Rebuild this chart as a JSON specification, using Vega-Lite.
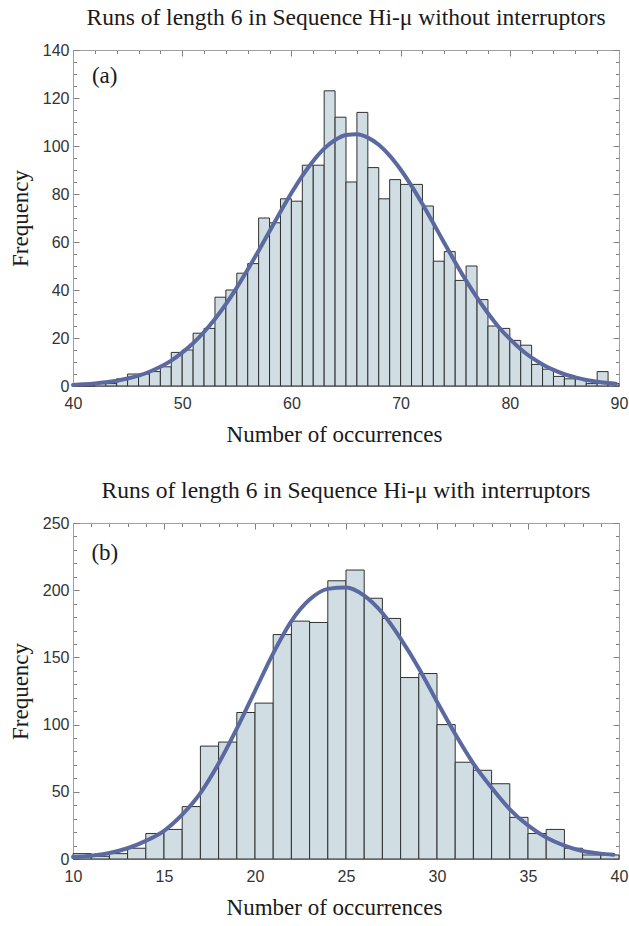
{
  "$schema": "https://vega.github.io/schema/vega-lite/v6.json",
  "padding": {"left": 8, "right": 0, "top": 5, "bottom": 0},
  "spacing": 31,
  "datasets": {
    "a_bars": [
      {"start": 40, "end": 41, "count": 0}, {"start": 41, "end": 42, "count": 0}, {"start": 42, "end": 43, "count": 1},
      {"start": 43, "end": 44, "count": 1}, {"start": 44, "end": 45, "count": 3}, {"start": 45, "end": 46, "count": 5},
      {"start": 46, "end": 47, "count": 5}, {"start": 47, "end": 48, "count": 6}, {"start": 48, "end": 49, "count": 8},
      {"start": 49, "end": 50, "count": 14}, {"start": 50, "end": 51, "count": 15}, {"start": 51, "end": 52, "count": 22},
      {"start": 52, "end": 53, "count": 24}, {"start": 53, "end": 54, "count": 37}, {"start": 54, "end": 55, "count": 40},
      {"start": 55, "end": 56, "count": 47}, {"start": 56, "end": 57, "count": 51}, {"start": 57, "end": 58, "count": 70},
      {"start": 58, "end": 59, "count": 68}, {"start": 59, "end": 60, "count": 78}, {"start": 60, "end": 61, "count": 77},
      {"start": 61, "end": 62, "count": 92}, {"start": 62, "end": 63, "count": 92}, {"start": 63, "end": 64, "count": 123},
      {"start": 64, "end": 65, "count": 112}, {"start": 65, "end": 66, "count": 85}, {"start": 66, "end": 67, "count": 114},
      {"start": 67, "end": 68, "count": 91}, {"start": 68, "end": 69, "count": 78}, {"start": 69, "end": 70, "count": 86},
      {"start": 70, "end": 71, "count": 84}, {"start": 71, "end": 72, "count": 84}, {"start": 72, "end": 73, "count": 75},
      {"start": 73, "end": 74, "count": 52}, {"start": 74, "end": 75, "count": 56}, {"start": 75, "end": 76, "count": 44},
      {"start": 76, "end": 77, "count": 50}, {"start": 77, "end": 78, "count": 36}, {"start": 78, "end": 79, "count": 25},
      {"start": 79, "end": 80, "count": 24}, {"start": 80, "end": 81, "count": 19}, {"start": 81, "end": 82, "count": 17},
      {"start": 82, "end": 83, "count": 9}, {"start": 83, "end": 84, "count": 7}, {"start": 84, "end": 85, "count": 4},
      {"start": 85, "end": 86, "count": 3}, {"start": 86, "end": 87, "count": 3}, {"start": 87, "end": 88, "count": 1},
      {"start": 88, "end": 89, "count": 6}, {"start": 89, "end": 90, "count": 1}
    ],
    "a_curve": [
      {"x": 40, "f": 0.46}, {"x": 41, "f": 0.7}, {"x": 42, "f": 1.04}, {"x": 43, "f": 1.52}, {"x": 44, "f": 2.19},
      {"x": 45, "f": 3.1}, {"x": 46, "f": 4.33}, {"x": 47, "f": 5.93}, {"x": 48, "f": 8.0}, {"x": 49, "f": 10.6},
      {"x": 50, "f": 13.9}, {"x": 51, "f": 17.8}, {"x": 52, "f": 22.5}, {"x": 53, "f": 27.9}, {"x": 54, "f": 34.1},
      {"x": 55, "f": 41.0}, {"x": 56, "f": 48.5}, {"x": 57, "f": 56.4}, {"x": 58, "f": 64.5}, {"x": 59, "f": 72.6},
      {"x": 60, "f": 80.4}, {"x": 61, "f": 87.6}, {"x": 62, "f": 93.8}, {"x": 63, "f": 98.9}, {"x": 64, "f": 102.5},
      {"x": 65, "f": 104.6}, {"x": 66, "f": 104.9}, {"x": 67, "f": 103.5}, {"x": 68, "f": 100.5}, {"x": 69, "f": 96.0},
      {"x": 70, "f": 90.2}, {"x": 71, "f": 83.4}, {"x": 72, "f": 75.8}, {"x": 73, "f": 67.8}, {"x": 74, "f": 59.6},
      {"x": 75, "f": 51.6}, {"x": 76, "f": 43.9}, {"x": 77, "f": 36.8}, {"x": 78, "f": 30.3}, {"x": 79, "f": 24.5},
      {"x": 80, "f": 19.6}, {"x": 81, "f": 15.3}, {"x": 82, "f": 11.8}, {"x": 83, "f": 9.0}, {"x": 84, "f": 6.7},
      {"x": 85, "f": 4.9}, {"x": 86, "f": 3.6}, {"x": 87, "f": 2.5}, {"x": 88, "f": 1.76}, {"x": 89, "f": 1.21},
      {"x": 89.7, "f": 0.95}
    ],
    "b_bars": [
      {"start": 10, "end": 11, "count": 4}, {"start": 11, "end": 12, "count": 2}, {"start": 12, "end": 13, "count": 4},
      {"start": 13, "end": 14, "count": 8}, {"start": 14, "end": 15, "count": 19}, {"start": 15, "end": 16, "count": 22},
      {"start": 16, "end": 17, "count": 39}, {"start": 17, "end": 18, "count": 84}, {"start": 18, "end": 19, "count": 87},
      {"start": 19, "end": 20, "count": 109}, {"start": 20, "end": 21, "count": 116}, {"start": 21, "end": 22, "count": 167},
      {"start": 22, "end": 23, "count": 177}, {"start": 23, "end": 24, "count": 176}, {"start": 24, "end": 25, "count": 207},
      {"start": 25, "end": 26, "count": 215}, {"start": 26, "end": 27, "count": 194}, {"start": 27, "end": 28, "count": 179},
      {"start": 28, "end": 29, "count": 135}, {"start": 29, "end": 30, "count": 138}, {"start": 30, "end": 31, "count": 100},
      {"start": 31, "end": 32, "count": 72}, {"start": 32, "end": 33, "count": 66}, {"start": 33, "end": 34, "count": 56},
      {"start": 34, "end": 35, "count": 31}, {"start": 35, "end": 36, "count": 19}, {"start": 36, "end": 37, "count": 22},
      {"start": 37, "end": 38, "count": 8}, {"start": 38, "end": 39, "count": 3}, {"start": 39, "end": 40, "count": 3}
    ],
    "b_curve": [
      {"x": 10, "f": 1.5}, {"x": 11, "f": 2.5}, {"x": 12, "f": 4.5}, {"x": 13, "f": 8}, {"x": 14, "f": 13.5},
      {"x": 15, "f": 21}, {"x": 16, "f": 33}, {"x": 17, "f": 49}, {"x": 18, "f": 71}, {"x": 19, "f": 97},
      {"x": 20, "f": 125}, {"x": 21, "f": 153}, {"x": 22, "f": 177}, {"x": 23, "f": 193}, {"x": 24, "f": 201},
      {"x": 25, "f": 202}, {"x": 26, "f": 196}, {"x": 27, "f": 183}, {"x": 28, "f": 164}, {"x": 29, "f": 142},
      {"x": 30, "f": 117}, {"x": 31, "f": 93}, {"x": 32, "f": 71}, {"x": 33, "f": 53}, {"x": 34, "f": 37},
      {"x": 35, "f": 25}, {"x": 36, "f": 16}, {"x": 37, "f": 10}, {"x": 38, "f": 6}, {"x": 39, "f": 4},
      {"x": 39.7, "f": 3.2}
    ]
  },
  "config": {
    "view": {"stroke": "#a0a0a0", "strokeWidth": 1},
    "axis": {
      "grid": false, "domainColor": "#a0a0a0", "tickColor": "#808080", "tickWidth": 1,
      "labelFont": "Liberation Sans", "labelFontSize": 16, "labelColor": "#333333",
      "titleFont": "Liberation Serif", "titleFontSize": 23, "titleFontWeight": "normal", "titleColor": "#1a1a1a",
      "labelFlush": false, "labelOverlap": false
    },
    "title": {"font": "Liberation Serif", "fontSize": 23.5, "fontWeight": "normal", "color": "#1a1a1a", "anchor": "middle", "offset": 13}
  },
  "vconcat": [
    {
      "title": "Runs of length 6 in Sequence Hi-μ without interruptors",
      "width": 546,
      "height": 336,
      "layer": [
        {
          "data": {"name": "a_bars"},
          "mark": {"type": "bar", "fill": "#d0dde3", "stroke": "#303030", "strokeWidth": 1},
          "encoding": {
            "x": {
              "field": "start", "type": "quantitative",
              "scale": {"domain": [40, 90], "nice": false, "zero": false},
              "axis": {
                "orient": "bottom", "title": "Number of occurrences", "titlePadding": 9, "titleX": 261,
                "values": [40, 42, 44, 46, 48, 50, 52, 54, 56, 58, 60, 62, 64, 66, 68, 70, 72, 74, 76, 78, 80, 82, 84, 86, 88, 90],
                "labelExpr": "datum.value % 10 === 0 ? datum.label : ''",
                "tickSize": {"condition": {"test": "datum.value % 10 === 0", "value": -6}, "value": -3.5},
                "labelPadding": 15.5
              }
            },
            "x2": {"field": "end"},
            "y": {
              "field": "count", "type": "quantitative",
              "scale": {"domain": [0, 140], "nice": false},
              "axis": {
                "orient": "left", "title": "Frequency", "titlePadding": 10,
                "values": [0, 5, 10, 15, 20, 25, 30, 35, 40, 45, 50, 55, 60, 65, 70, 75, 80, 85, 90, 95, 100, 105, 110, 115, 120, 125, 130, 135, 140],
                "labelExpr": "datum.value % 20 === 0 ? datum.label : ''",
                "tickSize": {"condition": {"test": "datum.value % 20 === 0", "value": -6}, "value": -3.5},
                "labelPadding": 10
              }
            },
            "y2": {"datum": 0}
          }
        },
        {
          "data": {"name": "a_curve"},
          "mark": {"type": "line", "color": "#5b69a1", "strokeWidth": 4, "interpolate": "monotone", "strokeCap": "round"},
          "encoding": {
            "x": {
              "field": "x", "type": "quantitative",
              "axis": {
                "orient": "top", "labels": false, "title": null,
                "values": [40, 42, 44, 46, 48, 50, 52, 54, 56, 58, 60, 62, 64, 66, 68, 70, 72, 74, 76, 78, 80, 82, 84, 86, 88, 90],
                "tickSize": {"condition": {"test": "datum.value % 10 === 0", "value": -6}, "value": -3.5}
              }
            },
            "y": {
              "field": "f", "type": "quantitative",
              "axis": {
                "orient": "right", "labels": false, "title": null,
                "values": [0, 5, 10, 15, 20, 25, 30, 35, 40, 45, 50, 55, 60, 65, 70, 75, 80, 85, 90, 95, 100, 105, 110, 115, 120, 125, 130, 135, 140],
                "tickSize": {"condition": {"test": "datum.value % 20 === 0", "value": -6}, "value": -3.5}
              }
            }
          }
        },
        {
          "data": {"values": [{"panel": "(a)"}]},
          "mark": {"type": "text", "font": "Liberation Serif", "fontSize": 23, "color": "#1a1a1a", "align": "center", "baseline": "middle"},
          "encoding": {
            "x": {"datum": 42.9, "type": "quantitative", "axis": null},
            "y": {"datum": 129, "type": "quantitative", "axis": null},
            "text": {"field": "panel", "type": "nominal"}
          }
        }
      ]
    },
    {
      "title": "Runs of length 6 in Sequence Hi-μ with interruptors",
      "width": 546,
      "height": 336,
      "layer": [
        {
          "data": {"name": "b_bars"},
          "mark": {"type": "bar", "fill": "#d0dde3", "stroke": "#303030", "strokeWidth": 1},
          "encoding": {
            "x": {
              "field": "start", "type": "quantitative",
              "scale": {"domain": [10, 40], "nice": false, "zero": false},
              "axis": {
                "orient": "bottom", "title": "Number of occurrences", "titlePadding": 9, "titleX": 261,
                "values": [10, 11, 12, 13, 14, 15, 16, 17, 18, 19, 20, 21, 22, 23, 24, 25, 26, 27, 28, 29, 30, 31, 32, 33, 34, 35, 36, 37, 38, 39, 40],
                "labelExpr": "datum.value % 5 === 0 ? datum.label : ''",
                "tickSize": {"condition": {"test": "datum.value % 5 === 0", "value": -6}, "value": -3.5},
                "labelPadding": 15.5
              }
            },
            "x2": {"field": "end"},
            "y": {
              "field": "count", "type": "quantitative",
              "scale": {"domain": [0, 250], "nice": false},
              "axis": {
                "orient": "left", "title": "Frequency", "titlePadding": 10,
                "values": [0, 10, 20, 30, 40, 50, 60, 70, 80, 90, 100, 110, 120, 130, 140, 150, 160, 170, 180, 190, 200, 210, 220, 230, 240, 250],
                "labelExpr": "datum.value % 50 === 0 ? datum.label : ''",
                "tickSize": {"condition": {"test": "datum.value % 50 === 0", "value": -6}, "value": -3.5},
                "labelPadding": 10
              }
            },
            "y2": {"datum": 0}
          }
        },
        {
          "data": {"name": "b_curve"},
          "mark": {"type": "line", "color": "#5b69a1", "strokeWidth": 4, "interpolate": "monotone", "strokeCap": "round"},
          "encoding": {
            "x": {
              "field": "x", "type": "quantitative",
              "axis": {
                "orient": "top", "labels": false, "title": null,
                "values": [10, 11, 12, 13, 14, 15, 16, 17, 18, 19, 20, 21, 22, 23, 24, 25, 26, 27, 28, 29, 30, 31, 32, 33, 34, 35, 36, 37, 38, 39, 40],
                "tickSize": {"condition": {"test": "datum.value % 5 === 0", "value": -6}, "value": -3.5}
              }
            },
            "y": {
              "field": "f", "type": "quantitative",
              "axis": {
                "orient": "right", "labels": false, "title": null,
                "values": [0, 10, 20, 30, 40, 50, 60, 70, 80, 90, 100, 110, 120, 130, 140, 150, 160, 170, 180, 190, 200, 210, 220, 230, 240, 250],
                "tickSize": {"condition": {"test": "datum.value % 50 === 0", "value": -6}, "value": -3.5}
              }
            }
          }
        },
        {
          "data": {"values": [{"panel": "(b)"}]},
          "mark": {"type": "text", "font": "Liberation Serif", "fontSize": 23, "color": "#1a1a1a", "align": "center", "baseline": "middle"},
          "encoding": {
            "x": {"datum": 11.75, "type": "quantitative", "axis": null},
            "y": {"datum": 228, "type": "quantitative", "axis": null},
            "text": {"field": "panel", "type": "nominal"}
          }
        }
      ]
    }
  ]
}
